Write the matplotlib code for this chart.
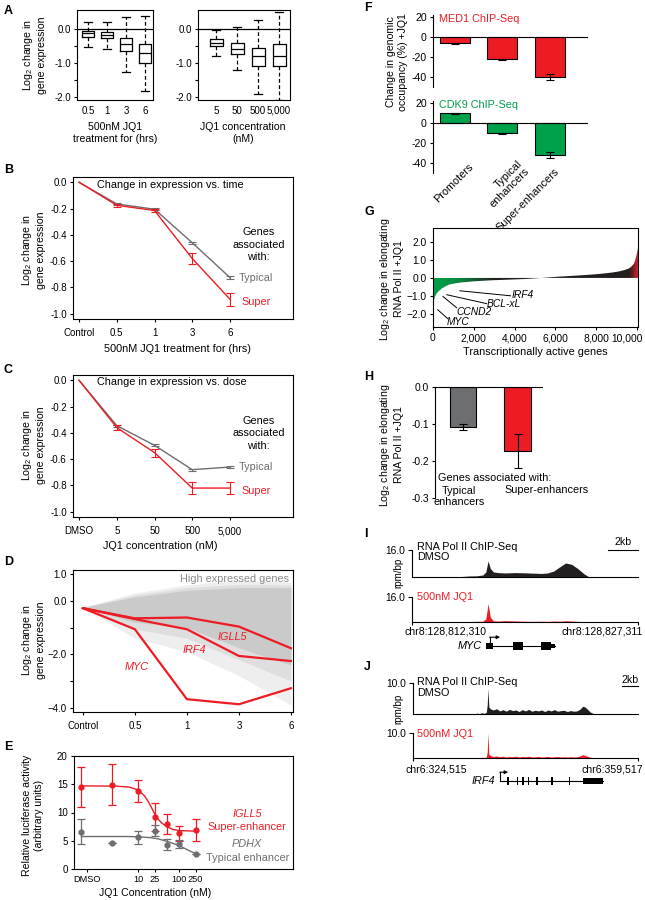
import numpy as np
import matplotlib
matplotlib.use("Agg")
import matplotlib.pyplot as plt
import matplotlib.transforms as mtransforms
from matplotlib.colors import LinearSegmentedColormap
from matplotlib.patches import Rectangle

plt.rcParams['font.family'] = ['Liberation Sans', 'DejaVu Sans']
plt.rcParams['font.size'] = 7.6
plt.rcParams['xtick.labelsize'] = 7
plt.rcParams['ytick.labelsize'] = 7
plt.rcParams['axes.unicode_minus'] = False
plt.rcParams['axes.linewidth'] = 0.8
plt.rcParams['xtick.major.width'] = 0.8
plt.rcParams['ytick.major.width'] = 0.8
plt.rcParams['xtick.major.size'] = 2.5
plt.rcParams['ytick.major.size'] = 2.5
plt.rcParams['xtick.major.pad'] = 2
plt.rcParams['ytick.major.pad'] = 2
plt.rcParams['mathtext.fontset'] = 'custom'
plt.rcParams['mathtext.rm'] = 'Liberation Sans'
plt.rcParams['mathtext.it'] = 'Liberation Sans:italic'

RED = '#ED1C24'
GRAY = '#6D6E71'
GREEN = '#00A14B'
BLACK = '#231F20'

# ---------------- data ----------------
# A: boxplots (whislo, q1, median, q3, whishi)
a_time_labels = ['0.5', '1', '3', '6']
a_time_stats = [(-0.53, -0.23, -0.13, -0.07, 0.20),
                (-0.60, -0.27, -0.17, -0.08, 0.20),
                (-1.27, -0.65, -0.45, -0.25, 0.35),
                (-1.82, -1.00, -0.70, -0.43, 0.38)]
a_dose_labels = ['5', '50', '500', '5,000']
a_dose_stats = [(-0.78, -0.50, -0.40, -0.30, -0.02),
                (-1.22, -0.75, -0.58, -0.42, 0.05),
                (-1.90, -1.10, -0.80, -0.55, 0.28),
                (-2.08, -1.10, -0.78, -0.45, 0.50)]

# B: expression vs time
b_labels = ['Control', '0.5', '1', '3', '6']
b_typ = [0, -0.165, -0.205, -0.46, -0.725]
b_typ_err = [0, 0.008, 0.006, 0.008, 0.01]
b_sup = [0, -0.175, -0.215, -0.58, -0.89]
b_sup_err = [0, 0.012, 0.015, 0.045, 0.05]

# C: expression vs dose
c_labels = ['DMSO', '5', '50', '500', '5,000']
c_typ = [0, -0.345, -0.495, -0.68, -0.66]
c_typ_err = [0, 0.008, 0.008, 0.008, 0.008]
c_sup = [0, -0.36, -0.55, -0.82, -0.82]
c_sup_err = [0, 0.02, 0.03, 0.045, 0.045]

# D: high expressed genes envelope and highlighted genes
d_labels = ['Control', '0.5', '1', '3', '6']
d_outer_hi = [-0.24, 0.30, 0.60, 0.78, 0.70]
d_outer_lo = [-0.24, -1.40, -1.90, -2.80, -3.90]
d_mid_hi = [-0.24, 0.22, 0.50, 0.62, 0.60]
d_mid_lo = [-0.24, -1.05, -1.40, -2.20, -3.00]
d_core_hi = [-0.24, 0.15, 0.40, 0.50, 0.50]
d_core_lo = [-0.24, -0.80, -1.00, -1.75, -2.40]
d_igll5 = [-0.27, -0.65, -0.62, -0.96, -1.77]
d_irf4 = [-0.27, -0.68, -1.06, -2.06, -2.25]
d_myc = [-0.27, -1.06, -3.68, -3.87, -3.27]

# E: luciferase
e_conc = [0.41, 2.3, 10, 25, 50, 100, 250]
e_sup = [14.5, 14.9, 13.8, 9.2, 8.0, 6.3, 6.9]
e_sup_err = [3.6, 3.6, 2.0, 2.4, 1.8, 1.3, 1.9]
e_typ = [6.6, 4.6, 5.6, 6.8, 4.3, 4.5, 2.7]
e_typ_err = [2.2, 0, 1.2, 1.0, 1.0, 0.7, 0]
e_sup_fit_x = [0.41, 1, 3, 6, 10, 14, 18, 22, 25, 30, 38, 50, 70, 100, 150, 250]
e_sup_fit_y = [14.7, 14.7, 14.65, 14.5, 14.0, 13.0, 11.8, 10.6, 9.8, 8.9, 8.1, 7.5, 7.0, 6.8, 6.75, 6.7]
e_typ_fit_x = [0.41, 5, 10, 20, 30, 50, 80, 120, 180, 250]
e_typ_fit_y = [5.75, 5.75, 5.7, 5.55, 5.35, 4.9, 4.4, 3.85, 3.2, 2.75]

# F: occupancy change
f_regions = ['Promoters', 'Typical\nenhancers', 'Super-enhancers']
f_med1 = [-6, -22, -40]
f_med1_err = [0.5, 0.5, 3]
f_cdk9 = [10, -10, -32]
f_cdk9_err = [0.5, 0.5, 3]

# G: sorted Pol II change
g_rank = [0, 100, 180, 300, 425, 600, 830, 1100, 1400, 2000, 2870, 3600, 4500, 5320,
          6140, 7000, 7780, 8300, 8760, 9100, 9410, 9600, 9740, 9850, 9900, 9960, 10000, 10050]
g_val = [-1.45, -1.05, -0.87, -0.72, -0.6, -0.47, -0.36, -0.3, -0.25, -0.19, -0.13, -0.1,
         -0.06, 0.0, 0.07, 0.13, 0.19, 0.24, 0.3, 0.36, 0.45, 0.53, 0.65, 0.8, 0.95, 1.2, 1.4, 1.65]
g_genes = ['IRF4', 'BCL-xL', 'CCND2', 'MYC']
g_line_start = [(1320, -0.72), (670, -0.94), (490, -1.04), (230, -1.78)]
g_line_end = [(3800, -1.0), (2630, -1.44), (1160, -1.67), (720, -2.28)]
g_label_pos = [(3870, -0.98), (2650, -1.45), (1130, -1.9), (690, -2.45)]

# H: elongating Pol II
h_vals = [-0.108, -0.173]
h_err = [0.007, 0.046]

# I: MYC locus (kb from chr8:128,812,310)
i_kb = [0, 3.0, 3.3, 3.8, 4.3, 4.7, 4.9, 5.05, 5.2, 5.4, 5.7, 6.2, 6.8, 7.4, 8.0, 8.6,
        9.0, 9.4, 9.8, 10.2, 10.6, 11.0, 11.4, 11.7, 15.0]
i_dmso = [0, 0, 0.3, 0.6, 0.7, 1.2, 3.0, 9.5, 5.0, 3.0, 2.6, 2.4, 2.6, 2.5, 2.3, 2.1,
          2.4, 3.5, 6.0, 8.3, 7.5, 5.0, 2.0, 0.3, 0]
i_jq1 = [0, 0, 0.2, 0.3, 0.4, 0.5, 2.0, 11.8, 3.0, 0.8, 0.6, 0.9, 0.7, 0.5, 0.4, 0.5,
         0.4, 0.6, 0.5, 0.8, 0.6, 0.4, 0.2, 0.0, 0]
i_exons = [(4.9, 5.4, 0.7), (6.7, 7.4, 1.0), (8.55, 9.2, 1.0), (9.2, 9.5, 0.5)]

# J: IRF4 locus (kb from chr6:324,515)
j_kb = [0, 9.6, 9.9, 10.3, 10.7, 11.1, 11.4, 11.55, 11.65, 11.8, 12.1, 12.5, 13.0, 13.5,
        14.0, 14.5, 15.0, 15.5, 16.0, 16.5, 17.0, 17.5, 18.0, 18.5, 19.0, 19.5, 20.0, 20.5,
        21.0, 21.5, 22.0, 22.5, 23.0, 23.5, 24.0, 24.5, 25.0, 25.5, 26.0, 26.4, 26.8, 27.2,
        27.6, 28.0, 28.4, 35.0]
j_dmso = [0, 0, 0.3, 0.1, 0.4, 0.2, 0.5, 3.0, 8.3, 2.2, 1.6, 1.3, 1.7, 1.0, 1.4, 0.9,
          1.5, 1.1, 1.3, 0.8, 1.4, 1.0, 1.5, 0.9, 1.2, 1.0, 1.3, 0.8, 1.3, 1.0, 1.4, 0.9,
          1.1, 1.2, 0.8, 1.1, 0.9, 1.0, 1.6, 2.5, 2.2, 1.4, 0.6, 0.2, 0, 0]
j_jq1 = [0, 0, 0.2, 0.1, 0.3, 0.2, 0.4, 2.5, 10.0, 1.5, 0.9, 0.6, 0.8, 0.5, 0.7, 0.4,
         0.6, 0.5, 0.7, 0.4, 0.6, 0.5, 0.7, 0.4, 0.5, 0.6, 0.4, 0.5, 0.6, 0.4, 0.5, 0.6,
         0.4, 0.5, 0.4, 0.5, 0.4, 0.5, 0.8, 1.3, 1.0, 0.6, 0.3, 0.1, 0, 0]
j_exons = [(14.65, 15.0, 1.1), (16.1, 16.3, 1.1), (17.0, 17.2, 1.1), (17.9, 18.1, 1.1),
           (19.2, 19.4, 1.1), (21.4, 21.85, 1.1), (24.2, 24.4, 1.1), (26.4, 29.5, 0.75)]

# ---------------- figure ----------------
W, H = 645, 900
fig = plt.figure(figsize=(6.45, 9), dpi=100)


def pax(l, t, r, b):
    return fig.add_axes([l / W, 1 - b / H, (r - l) / W, (b - t) / H])


def ptext(x, y, s, **kw):
    fig.text(x / W, 1 - y / H, s, **kw)


def letter(x, y, s):
    ptext(x, y, s, fontsize=9, fontweight='bold', ha='left', va='center')


def ylab(x, y, s):
    ptext(x, y, s, rotation=90, ha='center', va='center', ma='center')


# ---- A ----
for (l, r, stats, labels, xl, xlab_x, lo_x, hi_x, bw) in [
        (77, 153, a_time_stats, a_time_labels, '500nM JQ1\ntreatment for (hrs)', 115, 0.42, 4.42, 0.68),
        (198, 290, a_dose_stats, a_dose_labels, 'JQ1 concentration\n(nM)', 243, 0.14, 4.52, 0.62)]:
    ax = pax(l, 10, r, 100)
    bs = [dict(whislo=s[0], q1=s[1], med=s[2], q3=s[3], whishi=s[4], fliers=[]) for s in stats]
    ax.bxp(bs, positions=[1, 2, 3, 4], widths=bw, capwidths=0.42, showfliers=False,
           boxprops=dict(color='k', lw=0.9), whiskerprops=dict(color='k', lw=0.9, ls=(0, (3, 2))),
           capprops=dict(color='k', lw=0.9), medianprops=dict(color='k', lw=0.9))
    ax.axhline(0, color='k', lw=0.9)
    ax.set_xlim(lo_x, hi_x)
    ax.set_ylim(-2.09, 0.56)
    ax.set_yticks([0, -1, -2])
    ax.set_yticklabels(['0.0', '-1.0', '-2.0'])
    ax.set_yticks([-0.5, -1.5], minor=True)
    ax.tick_params(axis='y', which='minor', length=2.5, width=0.8)
    ax.set_xticks([1, 2, 3, 4])
    ax.set_xticklabels(labels)
    ax.tick_params(axis='x', length=0, pad=4)
    ptext(xlab_x, 133, xl, ha='center', va='center', ma='center')
letter(4, 11, 'A')
ylab(34, 55, 'Log$_2$ change in\ngene expression')

# ---- B & C ----
for (t, b, labels, typ, typ_err, sup, sup_err, title, xl, xl_x, xl_y, txt) in [
        (177, 319, b_labels, b_typ, b_typ_err, b_sup, b_sup_err,
         'Change in expression vs. time', '500nM JQ1 treatment for (hrs)', 177, 349,
         (-0.023, -0.475, -0.725, -0.91)),
        (375, 517, c_labels, c_typ, c_typ_err, c_sup, c_sup_err,
         'Change in expression vs. dose', 'JQ1 concentration (nM)', 160, 546,
         (-0.015, -0.403, -0.66, -0.845))]:
    ax = pax(73, t, 293, b)
    xs = np.arange(len(labels))
    ax.plot(xs, typ, color=GRAY, lw=1.0)
    ax.errorbar(xs[1:], typ[1:], yerr=typ_err[1:], fmt='none', ecolor=GRAY, elinewidth=0.8,
                capsize=3, capthick=0.8)
    ax.plot(xs, sup, color=RED, lw=1.0)
    ax.errorbar(xs[1:], sup[1:], yerr=sup_err[1:], fmt='none', ecolor=RED, elinewidth=0.8,
                capsize=3, capthick=0.8)
    ax.set_xlim(-0.16, 5.67)
    ax.set_ylim(-1.04, 0.04)
    ax.set_yticks([0, -0.2, -0.4, -0.6, -0.8, -1.0])
    ax.set_yticklabels(['0.0', '-0.2', '-0.4', '-0.6', '-0.8', '-1.0'])
    ax.set_xticks(xs)
    ax.set_xticklabels(labels)
    ax.tick_params(axis='x', pad=4)
    ax.text(0.48, txt[0], title, ha='left', va='center', fontsize=7.8)
    ax.text(4.75, txt[1], 'Genes\nassociated\nwith:', ha='center', va='center', linespacing=1.3,
            fontsize=7.8)
    ax.text(4.22, txt[2], 'Typical', color=GRAY, ha='left', va='center', fontsize=7.8)
    ax.text(4.3, txt[3], 'Super', color=RED, ha='left', va='center', fontsize=7.8)
    ptext(xl_x, xl_y, xl, ha='center', va='center', fontsize=7.8)
letter(4, 170, 'B')
ylab(33, 250, 'Log$_2$ change in\ngene expression')
letter(4, 370, 'C')
ylab(33, 445, 'Log$_2$ change in\ngene expression')

# ---- D ----
ax = pax(73, 570, 293, 712)
xs = np.arange(len(d_labels))
ax.fill_between(xs, d_outer_lo, d_outer_hi, color='#eeeeee', lw=0)
ax.fill_between(xs, d_mid_lo, d_mid_hi, color='#dedede', lw=0)
ax.fill_between(xs, d_core_lo, d_core_hi, color='#cacaca', lw=0)
for vals in (d_igll5, d_irf4, d_myc):
    ax.plot(xs, vals, color=RED, lw=1.6, solid_joinstyle='miter')
ax.set_xlim(-0.19, 4.04)
ax.set_ylim(-4.16, 1.16)
ax.set_yticks([1, 0, -1, -2, -3, -4])
ax.set_yticklabels(['1.0', '0.0', '', '\u22122.0', '', '\u22124.0'])
ax.set_xticks(xs)
ax.set_xticklabels(d_labels)
ax.tick_params(axis='x', pad=4)
ax.text(3.96, 0.82, 'High expressed genes', color='#8a8a8a', ha='right', va='center', fontsize=7.8)
ax.text(2.88, -1.35, 'IGLL5', color=RED, style='italic', ha='center', va='center', fontsize=7.8)
ax.text(2.15, -1.83, 'IRF4', color=RED, style='italic', ha='center', va='center', fontsize=7.8)
ax.text(1.04, -2.47, 'MYC', color=RED, style='italic', ha='center', va='center', fontsize=7.8)
letter(4, 562, 'D')
ylab(33, 640, 'Log$_2$ change in\ngene expression')

# ---- E ----
ax = pax(74, 756, 293, 869)
ax.set_xscale('log')
ax.plot(e_sup_fit_x, e_sup_fit_y, color=RED, lw=1.0)
ax.plot(e_typ_fit_x, e_typ_fit_y, color=GRAY, lw=1.0)
ax.errorbar(e_conc, e_sup, yerr=e_sup_err, fmt='o', color=RED, ms=3.5, elinewidth=0.9,
            capsize=3, capthick=0.9)
ax.errorbar(e_conc, e_typ, yerr=e_typ_err, fmt='o', color=GRAY, ms=3.5, elinewidth=0.9,
            capsize=3, capthick=0.9)
ax.set_xlim(0.27, 60000)
ax.set_ylim(0, 20)
ax.set_yticks([0, 5, 10, 15, 20])
ax.set_xticks([0.55, 10, 25, 100, 250])
ax.set_xticklabels(['DMSO', '10', '25', '100', '250'])
ax.xaxis.set_minor_locator(matplotlib.ticker.NullLocator())
ax.tick_params(axis='x', pad=2, labelsize=6.6)
ax.text(4570, 9.7, 'IGLL5', color=RED, style='italic', ha='center', va='center', fontsize=7.8)
ax.text(4570, 7.4, 'Super-enhancer', color=RED, ha='center', va='center', fontsize=7.8)
ax.text(4570, 4.4, 'PDHX', color=GRAY, style='italic', ha='center', va='center', fontsize=7.8)
ax.text(4570, 1.9, 'Typical enhancer', color=GRAY, ha='center', va='center', fontsize=7.8)
ptext(155, 893, 'JQ1 Concentration (nM)', ha='center', va='center')
letter(4, 747, 'E')
ylab(33, 815, 'Relative luciferase activity\n(arbitrary units)')

# ---- F ----
for (t, b, vals, errs, col, title, last) in [
        (15, 87, f_med1, f_med1_err, RED, 'MED1 ChIP-Seq', False),
        (101, 173, f_cdk9, f_cdk9_err, GREEN, 'CDK9 ChIP-Seq', True)]:
    ax = pax(433, t, 588, b)
    xs = np.arange(3)
    ax.bar(xs, vals, width=0.63, color=col, edgecolor='k', lw=0.8)
    ax.errorbar(xs, vals, yerr=errs, fmt='none', ecolor='k', elinewidth=0.8, capsize=3,
                capthick=0.8)
    ax.axhline(0, color='k', lw=0.8)
    ax.set_xlim(-0.46, 2.8)
    ax.set_ylim(-50, 22)
    for s in ('top', 'right', 'bottom'):
        ax.spines[s].set_visible(False)
    ax.set_xticks([])
    ax.set_yticks([20, 0, -20, -40])
    ax.tick_params(axis='y', labelsize=7.6)
    ax.text(-0.34, 18, title, color=col, ha='left', va='center', fontsize=7.8)
    if last:
        for xp, yp, lab in zip([0.36, 1.45, 2.15], [-42, -43, -47], f_regions):
            ax.text(xp, yp, lab, rotation=45, rotation_mode='anchor', ha='right',
                    va='center', ma='right', clip_on=False, fontsize=7.8, linespacing=0.95)
letter(364, 8, 'F')
ylab(397, 62, 'Change in genomic\noccupancy (%) +JQ1')

# ---- G ----
ax = pax(433, 228, 638, 327)
cmap = LinearSegmentedColormap.from_list('wf', [(0.0, GREEN), (0.12, '#0b8a40'),
                                               (0.3, BLACK), (0.955, BLACK),
                                               (0.975, '#7a1a1d'), (1.0, '#d8283a')])
grad = np.linspace(0, 1, 600).reshape(1, -1)
im = ax.imshow(grad, extent=(0, 10050, -2.75, 2.8), aspect='auto', cmap=cmap, origin='lower',
               interpolation='bilinear')
poly = ax.fill_between(g_rank, 0, g_val, facecolor='none', edgecolor='none')
im.set_clip_path(poly.get_paths()[0], transform=ax.transData)
for gname, (x0, y0), (x1, y1), (tx, ty) in zip(g_genes, g_line_start, g_line_end, g_label_pos):
    ax.plot([x0, x1], [y0, y1], color='k', lw=0.7)
    ax.text(tx, ty, gname, style='italic', ha='left', va='center', fontsize=7.4)
ax.set_xlim(0, 10050)
ax.set_ylim(-2.75, 2.8)
ax.set_yticks([2, 1, 0, -1, -2])
ax.set_yticklabels(['2.0', '1.0', '0.0', '\u22121.0', '\u22122.0'])
ax.set_xticks([0, 2000, 4000, 6000, 8000, 10000])
ax.set_xticklabels(['0', '2,000', '4,000', '6,000', '8,000', '10,000'])
ax.tick_params(labelsize=7.4)
last_lab = ax.get_xticklabels()[-1]
last_lab.set_ha('right')
last_lab.set_transform(last_lab.get_transform() +
                       mtransforms.ScaledTranslation(0.06, 0, fig.dpi_scale_trans))
ax.set_xlabel('Transcriptionally active genes', fontsize=7.8, labelpad=3)
letter(364, 212, 'G')
ylab(391, 279, 'Log$_2$ change in elongating\nRNA Pol II +JQ1')

# ---- H ----
ax = pax(435, 387, 542, 498)
ax.bar([0, 1], h_vals, width=0.49, color=[GRAY, RED], edgecolor='k', lw=0.8)
ax.errorbar([0, 1], h_vals, yerr=h_err, fmt='none', ecolor='k', elinewidth=0.8, capsize=3,
            capthick=0.8)
ax.set_xlim(-0.51, 1.44)
ax.set_ylim(-0.3, 0)
for s in ('right', 'bottom'):
    ax.spines[s].set_visible(False)
ax.set_xticks([])
ax.set_yticks([0, -0.1, -0.2, -0.3])
ax.set_yticklabels(['0.0', '-0.1', '-0.2', '-0.3'])
ax.tick_params(labelsize=7.4)
ax.text(-0.455, -0.246, 'Genes associated with:', ha='left', va='center', fontsize=7.8,
        clip_on=False)
ax.text(-0.07, -0.295, 'Typical\nenhancers', ha='center', va='center', fontsize=7.8,
        linespacing=1.1, clip_on=False)
ax.text(1.53, -0.278, 'Super-enhancers', ha='center', va='center', fontsize=7.8, clip_on=False)
letter(364, 377, 'H')
ylab(391, 445, 'Log$_2$ change in elongating\nRNA Pol II +JQ1')


# ---- I & J ----
def track(l, t, r, b, kb, vals, col, xmax, ymax, ends):
    ax = pax(l, t, r, b)
    ax.fill_between(kb, 0, vals, color=col, lw=0)
    ax.set_xlim(0, xmax)
    ax.set_ylim(0, ymax)
    for s in ('top', 'right'):
        ax.spines[s].set_visible(False)
    ax.set_yticks([ymax])
    ax.set_yticklabels(['%.1f' % ymax])
    ax.tick_params(axis='y', labelsize=7.4, length=3)
    if ends:
        ax.set_xticks([0, xmax])
        ax.set_xticklabels(['', ''])
        ax.tick_params(axis='x', length=2)
    else:
        ax.set_xticks([])
    return ax


def gene(l, t, r, b, xmax, tss, tss_end, exons, name, name_x):
    ax = pax(l, t, r, b)
    ax.set_xlim(0, xmax)
    ax.set_ylim(-2.5, 2.5)
    ax.axis('off')
    ax.plot([tss, exons[-1][1]], [0, 0], color='k', lw=0.8)
    for (s, e, h) in exons:
        ax.add_patch(Rectangle((s, -h), e - s, 2 * h, color='k', lw=0))
    ax.plot([tss, tss], [0, 2.2], color='k', lw=0.8)
    ax.annotate('', xy=(tss_end, 2.2), xytext=(tss, 2.2),
                arrowprops=dict(arrowstyle='-|>', color='k', lw=0.8, mutation_scale=5,
                                shrinkA=0, shrinkB=0))
    ax.text(name_x, 0, name, style='italic', ha='right', va='center', fontsize=7.8)


ax = track(412, 550, 638, 577, i_kb, i_dmso, BLACK, 15.0, 16.0, False)
ax.plot([13.0, 15.0], [16, 16], color='k', lw=0.8, clip_on=False)
ax.text(14.0, 17.5, '2kb', ha='center', va='bottom', fontsize=7.6, clip_on=False)
ptext(417, 547, 'RNA Pol II ChIP-Seq', ha='left', va='center', fontsize=7.8)
ptext(417, 557, 'DMSO', ha='left', va='center', fontsize=7.8)
track(412, 597, 638, 622, i_kb, i_jq1, RED, 15.0, 16.0, True)
ptext(417, 597, '500nM JQ1', color=RED, ha='left', va='center', fontsize=7.8)
ptext(404, 632, 'chr8:128,812,310', ha='left', va='center', fontsize=7.6)
ptext(643, 632, 'chr8:128,827,311', ha='right', va='center', fontsize=7.6)
gene(412, 636, 638, 656, 15.0, 5.15, 5.85, i_exons, 'MYC', 4.65)
letter(364, 534, 'I')
ptext(398, 573, 'rpm/bp', rotation=90, ha='center', va='center', fontsize=7)

ax = track(413, 683, 638, 714, j_kb, j_dmso, BLACK, 35.0, 10.0, False)
ax.plot([32.5, 35.0], [9.0, 9.0], color='k', lw=0.8, clip_on=False)
ax.text(33.75, 9.3, '2kb', ha='center', va='bottom', fontsize=7.6, clip_on=False)
ptext(417, 682, 'RNA Pol II ChIP-Seq', ha='left', va='center', fontsize=7.8)
ptext(417, 693, 'DMSO', ha='left', va='center', fontsize=7.8)
track(413, 733, 638, 758, j_kb, j_jq1, RED, 35.0, 10.0, True)
ptext(417, 734, '500nM JQ1', color=RED, ha='left', va='center', fontsize=7.8)
ptext(405, 769, 'chr6:324,515', ha='left', va='center', fontsize=7.6)
ptext(643, 769, 'chr6:359,517', ha='right', va='center', fontsize=7.6)
gene(413, 771, 638, 791, 35.0, 13.5, 14.8, j_exons, 'IRF4', 12.75)
letter(364, 667, 'J')
ptext(398, 709, 'rpm/bp', rotation=90, ha='center', va='center', fontsize=7)

fig.savefig('out.png', dpi=100)
